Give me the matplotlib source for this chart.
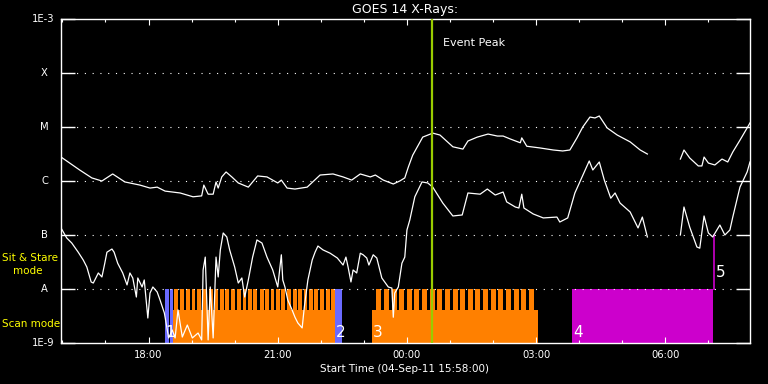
import numpy as np
import pandas as pd
import matplotlib
matplotlib.use("Agg")
import matplotlib.pyplot as plt
import matplotlib.dates as mdates

START = pd.Timestamp("2011-09-04 15:58:00")
SPAN_MIN = 960  # 16 hours shown

# GOES 14 long channel (1-8 A): minutes after START, flux W/m^2 (nan = data gap)
T_LONG = [0, 26, 43, 57, 72, 89, 110, 124, 134, 145, 166, 184, 196, 199, 205, 212, 216, 219,
          224, 230, 238, 247, 261, 274, 287, 302, 307, 315, 326, 343, 361, 379, 393, 405, 417,
          431, 438, 449, 463, 472, 479, 484, 490, 504, 518, 528, 546, 560, 567, 580, 595, 608,
          616, 626, 640, 642, 649, 667, 686, 699, 709, 719, 727, 737, 744, 750, 761, 775, 793,
          807, 817, 840, 863, 868, 876, 888, 893, 896, 902, 911, 921, 929, 936, 946, 956, 960]
F_LONG = [2.78e-6, 1.6e-6, 1.14e-6, 1.0e-6, 1.35e-6, 9.6e-7, 8.4e-7, 7.4e-7, 7.7e-7, 6.5e-7,
          6.0e-7, 5.1e-7, 5.3e-7, 8.4e-7, 5.7e-7, 5.7e-7, 9.6e-7, 7.4e-7, 1.19e-6, 1.47e-6,
          1.19e-6, 9.2e-7, 7.7e-7, 1.24e-6, 1.19e-6, 9.2e-7, 1.04e-6, 7.4e-7, 7.1e-7, 7.7e-7,
          1.29e-6, 1.35e-6, 1.19e-6, 1.04e-6, 1.35e-6, 1.19e-6, 1.29e-6, 1.04e-6, 8.8e-7, 1.0e-6,
          1.14e-6, 1.82e-6, 3.0e-6, 6.5e-6, 7.7e-6, 7.1e-6, 4.3e-6, 3.9e-6, 5.5e-6, 6.5e-6,
          7.4e-6, 6.8e-6, 6.8e-6, 6.0e-6, 5.1e-6, 6.3e-6, 4.4e-6, 4.1e-6, 3.75e-6, 3.6e-6,
          3.75e-6, 6.3e-6, 1.0e-5, 1.53e-5, 1.47e-5, 1.6e-5, 9.6e-6, 7.1e-6, 5.3e-6, 3.75e-6,
          3.16e-6, np.nan, 2.55e-6, 3.75e-6, 2.67e-6, 1.9e-6, 1.9e-6, 2.78e-6, 2.15e-6, 1.98e-6,
          2.55e-6, 2.25e-6, 3.44e-6, 5.7e-6, 9.6e-6, 1.19e-5]

# GOES 14 short channel (0.5-4 A)
T_SHORT = [0, 8, 15, 24, 31, 36, 42, 45, 52, 57, 61, 64, 71, 74, 79, 86, 92, 96, 100, 105,
           107, 113, 116, 121, 124, 128, 134, 138, 144, 148, 150, 155, 159, 163, 169, 176, 183,
           191, 196, 198, 201, 205, 208, 212, 216, 219, 222, 226, 231, 235, 242, 247, 252, 256,
           261, 267, 273, 280, 287, 295, 302, 307, 309, 312, 316, 322, 326, 330, 336, 339, 344,
           350, 354, 358, 365, 375, 385, 393, 397, 400, 404, 407, 412, 417, 421, 426, 429, 435,
           440, 447, 451, 456, 461, 463, 465, 470, 475, 479, 482, 486, 493, 503, 511, 518, 532,
           546, 559, 567, 584, 594, 605, 616, 621, 633, 638, 642, 645, 658, 672, 691, 695, 706,
           716, 726, 736, 741, 750, 757, 766, 772, 779, 793, 804, 810, 817, 840, 863, 868, 876,
           886, 890, 896, 902, 908, 918, 925, 932, 936, 946, 956, 960]
F_SHORT = [1.35e-7, 8.8e-8, 7.1e-8, 4.8e-8, 3.44e-8, 2.55e-8, 1.35e-8, 1.29e-8, 1.98e-8,
           1.67e-8, 3.0e-8, 4.8e-8, 5.5e-8, 4.8e-8, 3.0e-8, 1.98e-8, 1.19e-8, 1.98e-8, 1.6e-8,
           7.1e-9, 1.6e-8, 1.09e-8, 1.47e-8, 2.9e-9, 8.4e-9, 1.09e-8, 8.8e-9, 6.25e-9, 3.6e-9,
           1.74e-9, 1.24e-9, 1.74e-9, 1.24e-9, 4.1e-9, 1.29e-9, 2.15e-9, 1.24e-9, 1.53e-9,
           1.14e-9, 2.25e-8, 3.9e-8, 1.14e-9, 1.09e-8, 1.24e-9, 3.9e-8, 1.67e-8, 5.3e-8, 1.09e-7,
           9.2e-8, 5.3e-8, 2.55e-8, 1.29e-8, 1.6e-8, 7.1e-9, 1.47e-8, 3.9e-8, 8.1e-8, 7.1e-8,
           3.9e-8, 2.25e-8, 1.09e-8, 4.3e-8, 1.47e-8, 1.09e-8, 6.25e-9, 4.1e-9, 3.0e-9, 2.35e-9,
           1.9e-9, 4.6e-9, 1.47e-8, 3.44e-8, 4.8e-8, 6.25e-8, 5.3e-8, 4.6e-8, 3.75e-8, 2.78e-8,
           3.9e-8, 2.55e-8, 1.35e-8, 2.25e-8, 1.98e-8, 4.6e-8, 4.3e-8, 3.75e-8, 2.78e-8, 4.3e-8,
           3.75e-8, 1.6e-8, 1.35e-8, 1.09e-8, 1.04e-8, 3.0e-9, 8.4e-9, 1.09e-8, 3.0e-8, 3.9e-8,
           1.24e-7, 1.9e-7, 5.1e-7, 9.6e-7, 9.2e-7, 7.7e-7, 3.9e-7, 2.25e-7, 2.35e-7, 6.0e-7,
           5.7e-7, 7.1e-7, 5.5e-7, 6.25e-7, 4.1e-7, 3.3e-7, 3.16e-7, 5.7e-7, 3.16e-7, 2.45e-7,
           2.07e-7, 2.15e-7, 1.74e-7, 2.07e-7, 6.0e-7, 1.19e-6, 2.35e-6, 1.6e-6, 2.25e-6,
           1.04e-6, 4.8e-7, 6.0e-7, 3.9e-7, 2.67e-7, 1.35e-7, 2.15e-7, 9.2e-8, np.nan, 1.0e-7,
           3.3e-7, 1.4e-7, 6.0e-8, 5.7e-8, 2.25e-7, 1.09e-7, 9.2e-8, 1.53e-7, 1.0e-7, 1.24e-7,
           2.15e-7, 7.7e-7, 1.47e-6, 2.25e-6]

PEAK_MIN = 517  # event peak, ~00:35

# observing program (minutes after START)
SIT_STARE_SPANS = [(145, 150.5), (152, 156), (382, 392)]   # blue, up to A level
SCAN_SPANS = [(156, 382), (433, 665)]                      # orange base
SCAN1_STRIPES = [158, 166, 174, 182, 190, 198, 206, 214, 222, 229, 237, 245, 253, 261, 268,
                 277, 284, 292, 300, 307, 315, 323, 330, 338, 346, 353, 361, 369, 376]
SCAN3_STRIPES = [439, 450, 461, 471, 482, 492, 503, 514, 524, 535, 546, 556, 567, 577, 588,
                 599, 609, 620, 631, 641, 652]
OTHER_SPAN = (712, 908.5)     # magenta
OTHER_LINE = 910
BLOCK_LABELS = ["1", "2", "3", "4", "5"]
BLOCK_LABEL_MIN = [146, 383, 434, 714, 912]

LEVELS = [1e-9, 1e-8, 1e-7, 1e-6, 1e-5, 1e-4, 1e-3]
LEVEL_LABELS = ["1E-9", "A", "B", "C", "M", "X", "1E-3"]

ORANGE, BLUE, MAGENTA, GREEN = "#ff8000", "#6a6aff", "#cc00cc", "#99cc00"
SCAN_BASE_TOP = 10 ** -8.39


def tm(m):
    return START + pd.to_timedelta(np.asarray(m, dtype=float), unit="min")


def band(a, b, top, color):
    ax.fill_between(tm([a, b]), 1e-9, top, color=color, lw=0, antialiased=False, zorder=1)


fig = plt.figure(figsize=(7.68, 3.84), dpi=100, facecolor="black")
ax = fig.add_axes([61 / 768, 41 / 384, 689 / 768, 324 / 384], facecolor="black")
ax.set_yscale("log")

# observing-mode bars
for a, b in SCAN_SPANS:
    band(a, b, SCAN_BASE_TOP, ORANGE)
for s in SCAN1_STRIPES:
    band(s, s + 5.2, 1e-8, ORANGE)
for s in SCAN3_STRIPES:
    band(s, s + 7.3, 1e-8, ORANGE)
for a, b in SIT_STARE_SPANS:
    band(a, b, 1e-8, BLUE)
band(*OTHER_SPAN, 1e-8, MAGENTA)
ax.plot(tm([OTHER_LINE, OTHER_LINE]), [1e-8, 1e-7], color=MAGENTA, lw=1.2, zorder=1)

# dotted class levels
for lvl in LEVELS[1:-1]:
    ax.axhline(lvl, color="white", lw=0.8, ls=(0, (1, 6)), zorder=2)

ax.plot(tm(T_LONG), F_LONG, color="white", lw=0.9, zorder=3)
ax.plot(tm(T_SHORT), F_SHORT, color="white", lw=0.9, zorder=3)

ax.axvline(tm([PEAK_MIN])[0], color=GREEN, lw=1.6, zorder=4)
ax.text(tm([PEAK_MIN + 15])[0], 10 ** -3.44, "Event Peak", color="white",
        fontsize=8, va="center", ha="left")

for lab, m in zip(BLOCK_LABELS, BLOCK_LABEL_MIN):
    y = 10 ** -7.69 if lab == "5" else 10 ** -8.8
    ax.text(tm([m])[0], y, lab, color="white", fontsize=11, va="center", ha="left", zorder=5)

ax.set_xlim(tm([0, SPAN_MIN]))
ax.set_ylim(1e-9, 1e-3)
ax.set_yticks(LEVELS)
ax.set_yticklabels([])
ax.yaxis.set_minor_locator(matplotlib.ticker.NullLocator())
for lvl, lab in zip(LEVELS, LEVEL_LABELS):
    if lab.startswith("1E"):
        ax.text(-0.009, lvl, lab, transform=ax.get_yaxis_transform(), color="white",
                fontsize=7.2, ha="right", va="center")
    else:
        ax.text(-0.024, lvl, lab, transform=ax.get_yaxis_transform(), color="white",
                fontsize=7.2, ha="center", va="center")

ax.xaxis.set_major_locator(mdates.HourLocator(byhour=range(0, 24, 3)))
ax.xaxis.set_minor_locator(mdates.HourLocator())
ax.xaxis.set_major_formatter(mdates.DateFormatter("%H:%M"))
ax.tick_params(axis="y", which="major", direction="in", length=10, width=1,
               color="white", left=True, right=True)
ax.tick_params(axis="x", which="major", direction="in", length=4.3, width=0.8,
               color="white", top=True, bottom=True, labelcolor="white",
               labelsize=7.2, pad=5)
ax.tick_params(axis="x", which="minor", direction="in", length=2.2, width=0.8,
               color="white", top=True, bottom=True)
for sp in ax.spines.values():
    sp.set_color("white")
    sp.set_linewidth(1)

fig.text(405 / 768, 1 - 9 / 384, "GOES 14 X-Rays:", color="white", fontsize=9,
         ha="center", va="center")
fig.text(405 / 768, 1 - 369 / 384, "Start Time (04-Sep-11 15:58:00)", color="white",
         fontsize=7.5, ha="center", va="center")
fig.text(2 / 768, 1 - 258 / 384, "Sit & Stare", color="yellow", fontsize=7.5,
         ha="left", va="center")
fig.text(13 / 768, 1 - 271 / 384, "mode", color="yellow", fontsize=7.5,
         ha="left", va="center")
fig.text(2 / 768, 1 - 324 / 384, "Scan mode", color="yellow", fontsize=7.5,
         ha="left", va="center")

fig.savefig("out.png", dpi=100, facecolor="black")
